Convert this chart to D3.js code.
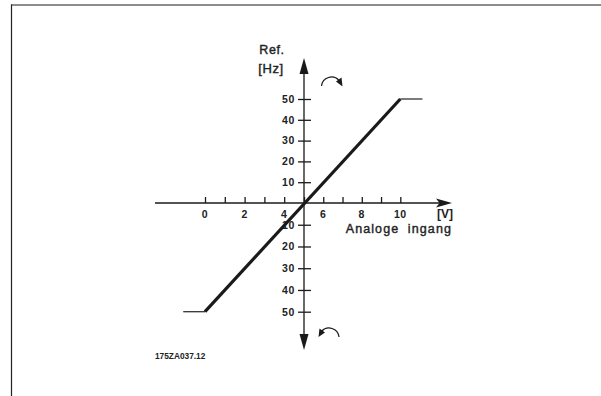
<!DOCTYPE html>
<html>
<head>
<meta charset="utf-8">
<script src="https://cdn.jsdelivr.net/npm/d3@7"></script>
<style>
  html, body { margin: 0; padding: 0; background: #fff; }
  svg { display: block; }
  text { font-family: "Liberation Sans", Arial, sans-serif; fill: #222; }
</style>
</head>
<body>
<svg id="chart" width="601" height="396"></svg>
<script>
// ---- data ----
const xTickValues = [0, 1, 2, 3, 4, 5, 6, 7, 8, 9, 10];
const xTickLabels = [0, 2, 4, 6, 8, 10];
const yTickValues = [-50, -40, -30, -20, -10, 10, 20, 30, 40, 50];
const lowPlateau  = [[-1.1, -50], [0, -50]];
const ramp        = [[0, -50], [10, 50]];
const highPlateau = [[10, 50], [11.15, 50]];
const yTitle = ["Ref.", "[Hz]"];
const xUnit = "[V]";
const xTitle = "Analoge ingang";
const drawingId = "175ZA037.12";

const svg = d3.select("#chart");

// frame lines
svg.append("line").attr("x1", 11).attr("x2", 601).attr("y1", 5).attr("y2", 5)
  .attr("stroke", "#666").attr("stroke-width", 1.5);
svg.append("line").attr("x1", 11.5).attr("x2", 11.5).attr("y1", 4.5).attr("y2", 396)
  .attr("stroke", "#222").attr("stroke-width", 1.2);

// scales
const x = d3.scaleLinear().domain([0, 5, 10]).range([205, 304, 400.3]);
const y = d3.scaleLinear().domain([-50, 0, 50]).range([311.7, 203, 99]);

const x0 = x(5), y0 = y(0);
const ink = "#1a1a1a";

// horizontal axis line + arrow
svg.append("line").attr("x1", 155).attr("x2", 446).attr("y1", y0).attr("y2", y0)
  .attr("stroke", ink).attr("stroke-width", 1.3);
svg.append("path").attr("d", `M452,${y0} L436,${y0 - 4.5} L439.5,${y0} L436,${y0 + 4.5} Z`)
  .attr("fill", ink);

// vertical axis line + arrows
svg.append("line").attr("x1", x0).attr("x2", x0).attr("y1", 66).attr("y2", 342)
  .attr("stroke", ink).attr("stroke-width", 1.3);
svg.append("path").attr("d", `M${x0},58 L${x0 - 4.5},74 L${x0 + 4.5},74 Z`).attr("fill", ink);
svg.append("path").attr("d", `M${x0},350 L${x0 - 4.5},334 L${x0 + 4.5},334 Z`).attr("fill", ink);

// x ticks (above axis)
const xAxis = d3.axisTop(x).tickValues(xTickValues).tickSize(6).tickFormat("");
const gx = svg.append("g").attr("transform", `translate(0,${y0})`).call(xAxis);
gx.select(".domain").remove();
gx.selectAll(".tick line").attr("stroke", ink).attr("stroke-width", 1.3);

svg.append("g").selectAll("text").data(xTickLabels).join("text")
  .attr("x", d => x(d)).attr("y", y0 + 14.5)
  .attr("text-anchor", "middle")
  .attr("font-size", 10.5).attr("font-weight", "bold").attr("letter-spacing", 0.5)
  .text(d => d);

// y ticks crossing the axis, labels on the left
const yAxisL = d3.axisLeft(y).tickValues(yTickValues).tickSize(6).tickPadding(3)
  .tickFormat(d => Math.abs(d));
const gyl = svg.append("g").attr("transform", `translate(${x0},0)`).call(yAxisL);
gyl.select(".domain").remove();
gyl.selectAll(".tick line").attr("stroke", ink).attr("stroke-width", 1.3);
gyl.selectAll(".tick text").attr("font-size", 10.5).attr("font-weight", "bold")
  .attr("letter-spacing", 0.6).attr("fill", "#222")
  .attr("font-family", "Liberation Sans, Arial, sans-serif");

const yAxisR = d3.axisRight(y).tickValues(yTickValues).tickSize(7).tickFormat("");
const gyr = svg.append("g").attr("transform", `translate(${x0},0)`).call(yAxisR);
gyr.select(".domain").remove();
gyr.selectAll(".tick line").attr("stroke", ink).attr("stroke-width", 1.3);

// data line
const line = d3.line().x(d => x(d[0])).y(d => y(d[1]));
svg.append("path").datum(lowPlateau).attr("d", line)
  .attr("fill", "none").attr("stroke", "#333").attr("stroke-width", 1.3);
svg.append("path").datum(highPlateau).attr("d", line)
  .attr("fill", "none").attr("stroke", "#333").attr("stroke-width", 1.3);
svg.append("path").datum(ramp).attr("d", line)
  .attr("fill", "none").attr("stroke", "#1a1a1a").attr("stroke-width", 3.2);

// titles
const bolden = sel => sel.attr("stroke", "#222").attr("stroke-width", 0.4);
svg.append("text").attr("x", 272).attr("y", 54).attr("text-anchor", "middle")
  .attr("font-size", 12.5).attr("letter-spacing", 0.6).call(bolden).text(yTitle[0]);
svg.append("text").attr("x", 271).attr("y", 72.5).attr("text-anchor", "middle")
  .attr("font-size", 13).attr("letter-spacing", 0.6).call(bolden).text(yTitle[1]);
svg.append("text").attr("x", 453).attr("y", 217.5).attr("text-anchor", "end")
  .attr("font-size", 12).attr("font-weight", "bold").text(xUnit);
svg.append("text").attr("x", 452).attr("y", 232.5).attr("text-anchor", "end")
  .attr("font-size", 12.5).attr("letter-spacing", 1.1).attr("word-spacing", 4)
  .call(bolden).text(xTitle);
svg.append("text").attr("x", 155).attr("y", 359).attr("font-size", 8.3)
  .attr("font-weight", "bold").text(drawingId);

// rotation arrows
svg.append("path").attr("d", "M321.5,86 A10,10 0 0 1 339,80.5")
  .attr("fill", "none").attr("stroke", ink).attr("stroke-width", 1.2);
svg.append("path").attr("d", "M342.5,86.5 L336,81.5 L341.5,77.5 Z").attr("fill", ink);
svg.append("path").attr("d", "M339,337 A10,10 0 0 0 321.5,331.5")
  .attr("fill", "none").attr("stroke", ink).attr("stroke-width", 1.2);
svg.append("path").attr("d", "M318.5,337 L325,332.5 L319.5,328.5 Z").attr("fill", ink);
</script>
</body>
</html>
